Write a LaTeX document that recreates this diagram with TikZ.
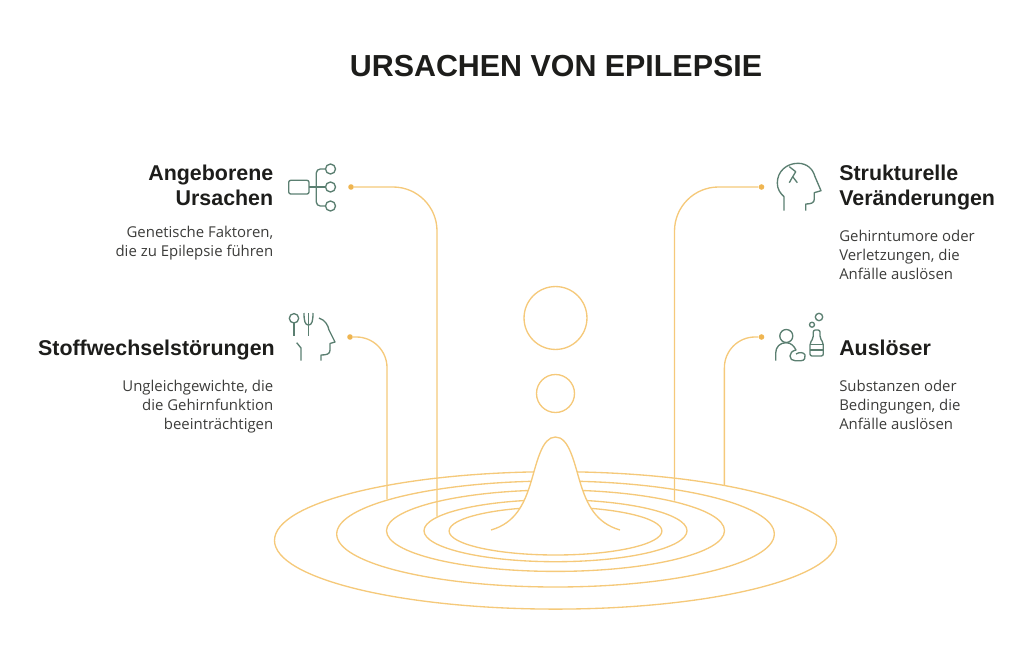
\documentclass[tikz,border=0pt]{standalone}
\usepackage{fontspec}
\setmainfont{Liberation Sans}
\newfontfamily\bodyfont{Open Sans}
\usetikzlibrary{positioning}
\definecolor{wave}{HTML}{F5C97A}
\definecolor{spot}{HTML}{EFB551}
\definecolor{icon}{HTML}{5B7F71}
\definecolor{ink}{HTML}{1D1D1B}
\definecolor{body}{HTML}{3C3C3A}
\tikzset{
	wave/.style={draw=wave, line width=1pt},
	spot/.style={circle, fill=spot, inner sep=0, minimum size=4.2pt},
	iconline/.style={draw=icon, line width=1pt, line join=round},
	headtext/.style={inner sep=0, text=ink, font=\fontsize{16.05}{18.75}\selectfont\bfseries},
	bodytext/.style={inner sep=0, text=body, font=\bodyfont\fontsize{11.2}{14.3}\selectfont},
}
\begin{document}
\begin{tikzpicture}[x=0.75pt,y=-0.75pt]
	\useasboundingbox (0,0) rectangle (1024,659);
	
	\node[inner sep=0, text=ink, font=\fontsize{22.8}{28}\selectfont\bfseries] (title) at (556,66) {URSACHEN VON EPILEPSIE};
	
	% rings
	\draw[wave] (555.5,540.4) ellipse [x radius=281, y radius=68.7];
	\draw[wave] (555.5,534) ellipse [x radius=218.8, y radius=53];
	\draw[wave] (555.5,530.7) ellipse [x radius=169, y radius=40.7];
	\draw[wave] (555.5,530.7) ellipse [x radius=131.5, y radius=31];
	\draw[wave] (555.5,531) ellipse [x radius=106.4, y radius=24];
	
	% peak and drops
	\fill[white] (491,530) .. controls (515,523) and (524,505) .. (531,482) .. controls (537,462) and (542,437) .. (555.4,437) .. controls (569,437) and (574,462) .. (580,482) .. controls (587,505) and (596,523) .. (620,530) -- cycle;
	\draw[wave] (491,530) .. controls (515,523) and (524,505) .. (531,482) .. controls (537,462) and (542,437) .. (555.4,437) .. controls (569,437) and (574,462) .. (580,482) .. controls (587,505) and (596,523) .. (620,530);
	\node[wave, circle, inner sep=0, minimum size=47.2pt] (drop1) at (555.5,318) {};
	\node[wave, circle, inner sep=0, minimum size=28.5pt] (drop2) at (555.5,393.5) {};
	
	% connectors
	\node[spot] (s1) at (351,187) {};
	\node[spot] (s2) at (350,337) {};
	\node[spot] (s3) at (761.5,187) {};
	\node[spot] (s4) at (761.5,337) {};
	\coordinate (e1) at (437,516.7);
	\coordinate (e2) at (387,499.3);
	\coordinate (e3) at (674.5,500.7);
	\coordinate (e4) at (724.4,485);
	\draw[wave, rounded corners=33pt] (s1) -| (e1);
	\draw[wave, rounded corners=23pt] (s2) -| (e2);
	\draw[wave, rounded corners=33pt] (s3) -| (e3);
	\draw[wave, rounded corners=23pt] (s4) -| (e4);
	
	% left texts
	\node[headtext, anchor=north east, align=right] (h1) at (273.5,165) {Angeborene\\Ursachen};
	\node[bodytext, anchor=north east, align=right] (b1) at (273.5,226) {Genetische Faktoren,\\die zu Epilepsie führen};
	\node[headtext, anchor=north east, align=right] (h2) at (275,340) {Stoffwechselstörungen};
	\node[bodytext, anchor=north east, align=right] (b2) at (273.5,380) {Ungleichgewichte, die\\die Gehirnfunktion\\beeinträchtigen};
	
	% right texts
	\node[headtext, anchor=north west, align=left] (h3) at (839,165) {Strukturelle\\Veränderungen};
	\node[bodytext, anchor=north west, align=left] (b3) at (839,230) {Gehirntumore oder\\Verletzungen, die\\Anfälle auslösen};
	\node[headtext, anchor=north west, align=left] (h4) at (839,340) {Auslöser};
	\node[bodytext, anchor=north west, align=left] (b4) at (839,380) {Substanzen oder\\Bedingungen, die\\Anfälle auslösen};
	
	% tree icon
	\draw[iconline, rounded corners=1.5pt] (288.7,180.3) rectangle (309,194);
	\draw[iconline] (309,187) -- (325.5,187);
	\draw[iconline, rounded corners=3pt] (325.5,169) -- (316.3,169) -- (316.3,206) -- (325.5,206);
	\foreach \y in {169,187,206}
		\draw[iconline] (330.5,\y) circle [radius=5];
	
	% fork and head icon
	\draw[iconline] (294,318.3) circle [radius=4.7];
	\draw[iconline] (294,323) -- (294,335.7);
	\draw[iconline] (308.5,313) -- (308.5,335.5);
	\draw[iconline] (304,313) .. controls (304,321) and (305,325) .. (308.5,325) .. controls (312,325) and (313,321) .. (313,313);
	\draw[iconline] (319,318) .. controls (325,320) and (328,325) .. (329,330) -- (335,342) -- (330,343.5) -- (330,350) .. controls (330,354) and (327,355) .. (321,355) -- (321,360.7);
	\draw[iconline] (296.7,342.7) -- (301,348) -- (301,360.7);
	
	% cracked head icon
	\draw[iconline] (784,210.7) -- (784,196.7) .. controls (780,193) and (777.3,189) .. (777.3,183) .. controls (777.3,171) and (787,163.3) .. (798,163.3) .. controls (807,163.3) and (813,169) .. (815,176.7) -- (821,190.7) -- (814.3,192.7) -- (814.3,199) .. controls (814.3,203) and (811,204) .. (805.7,204) -- (805.7,210.7);
	\draw[iconline] (789.3,166.7) -- (795.7,171.7) -- (792.7,176.7) -- (789.3,182.7);
	\draw[iconline] (792.7,176.7) -- (797.3,182.7);
	
	% person and bottle icon
	\draw[iconline] (786.3,336) circle [radius=6.5];
	\draw[iconline] (775.7,360.7) -- (775.7,353) .. controls (775.7,347) and (780,342.7) .. (786,342.7) .. controls (791,342.7) and (794,346) .. (796,350) .. controls (792,351) and (790,353) .. (790,356) .. controls (790,359) and (792,360.7) .. (795,360.7) -- (801,360.7) .. controls (805,360.7) and (805.5,357) .. (805,355) .. controls (804,352) and (799,352) .. (796,354);
	\draw[iconline, rounded corners=1.5pt] (813.3,330) -- (820,330) -- (820,338) -- (823.3,343) -- (823.3,356) -- (810,356) -- (810,343) -- (813.3,338) -- cycle;
	\draw[iconline] (810,344.3) -- (823.3,344.3);
	\draw[iconline] (810,350) -- (823.3,350);
	\draw[iconline] (819,317) circle [radius=3.7];
	\draw[iconline] (812,324.7) circle [radius=2.5];
\end{tikzpicture}
\end{document}
